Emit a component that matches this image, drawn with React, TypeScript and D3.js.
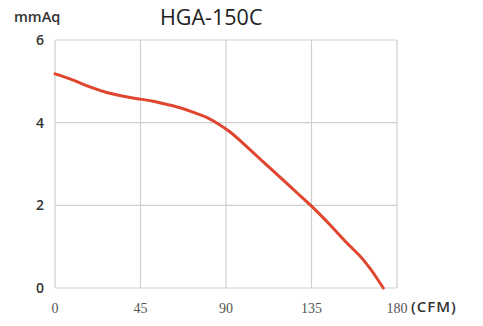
import { useRef, useEffect } from "react";
import * as d3 from "d3";

const xTicks = [0, 45, 90, 135, 180];
const yTicks = [0, 2, 4, 6];

// airflow (CFM) vs static pressure (mmAq)
const cfm = [0, 9.6, 18, 27.2, 36, 44.7, 51.7, 58, 65.8, 73, 79.8, 86, 92, 99, 109.6, 118, 127.2, 135, 144.7, 153, 162.3, 166, 169.5, 172.8];
const pressure = [5.18, 5.03, 4.87, 4.73, 4.64, 4.57, 4.52, 4.45, 4.36, 4.25, 4.13, 3.97, 3.78, 3.5, 3.05, 2.7, 2.31, 1.98, 1.53, 1.12, 0.68, 0.46, 0.23, 0];

export default function App() {
  const svgRef = useRef<SVGSVGElement>(null);

  useEffect(() => {
    const width = 483;
    const height = 326;
    const margin = { top: 40, right: 86, bottom: 38, left: 55 };

    const svg = d3.select(svgRef.current).attr("width", width).attr("height", height);
    svg.selectAll("*").remove();

    const x = d3.scaleLinear().domain([0, 180]).range([margin.left, width - margin.right]);
    const y = d3.scaleLinear().domain([0, 6]).range([height - margin.bottom, margin.top]);

    const g = svg.append("g");

    // grid
    g.selectAll(".vgrid")
      .data(xTicks)
      .enter()
      .append("line")
      .attr("x1", (d) => x(d))
      .attr("x2", (d) => x(d))
      .attr("y1", y(0))
      .attr("y2", y(6))
      .attr("stroke", "#cfcfcf")
      .attr("stroke-width", 1.2);

    g.selectAll(".hgrid")
      .data(yTicks)
      .enter()
      .append("line")
      .attr("x1", x(0))
      .attr("x2", x(180))
      .attr("y1", (d) => y(d))
      .attr("y2", (d) => y(d))
      .attr("stroke", "#cfcfcf")
      .attr("stroke-width", 1.2);

    // y tick labels
    g.selectAll(".ylab")
      .data(yTicks)
      .enter()
      .append("text")
      .attr("x", 40)
      .attr("y", (d) => y(d) + 5)
      .attr("text-anchor", "middle")
      .attr("font-family", "'Open Sans', sans-serif")
      .attr("font-weight", 600)
      .attr("font-size", 14)
      .attr("fill", "#333")
      .text((d) => d);

    // x tick labels (serif)
    g.selectAll(".xlab")
      .data(xTicks)
      .enter()
      .append("text")
      .attr("x", (d) => x(d))
      .attr("y", 313)
      .attr("text-anchor", "middle")
      .attr("font-family", "'Liberation Serif', serif")
      .attr("font-size", 14)
      .attr("fill", "#555")
      .text((d) => d);

    svg.append("text")
      .attr("x", 411)
      .attr("y", 312)
      .attr("font-family", "'Open Sans', sans-serif")
      .attr("font-weight", 600)
      .attr("font-size", 15)
      .attr("letter-spacing", 1)
      .attr("fill", "#333")
      .text("(CFM)");

    svg.append("text")
      .attr("x", 14)
      .attr("y", 22)
      .attr("font-family", "'Open Sans', sans-serif")
      .attr("font-weight", 600)
      .attr("font-size", 14.5)
      .attr("fill", "#333")
      .text("mmAq");

    svg.append("text")
      .attr("x", 160)
      .attr("y", 25)
      .attr("font-family", "'Open Sans', sans-serif")
      .attr("font-size", 21.5)
      .attr("fill", "#222")
      .text("HGA-150C");

    const line = d3
      .line<number>()
      .x((d) => x(d))
      .y((_, i) => y(pressure[i]))
      .curve(d3.curveMonotoneX);

    g.append("path")
      .attr("d", line(cfm))
      .attr("fill", "none")
      .attr("stroke", "#e0462f")
      .attr("stroke-width", 3)
      .attr("stroke-linecap", "round");
  }, []);

  return (
    <svg ref={svgRef} style={{ position: "absolute", left: 0, top: 0, background: "#fff" }} />
  );
}
